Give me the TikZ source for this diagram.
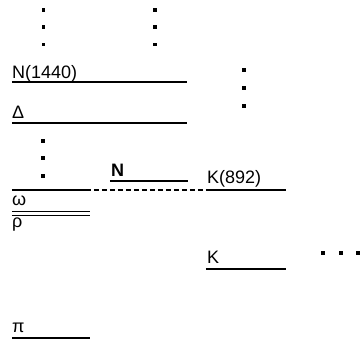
\documentclass[tikz,border=0pt]{standalone}
\usepackage{fontspec}
\setmainfont{Liberation Sans}
\begin{document}
\begin{tikzpicture}[x=1pt,y=-1pt,
  level/.style={line width=1.7pt},
  thinlevel/.style={line width=1.4pt},
  link/.style={line width=1.3pt,dash pattern=on 5pt off 3pt},
  lbl/.style={anchor=base west,inner sep=0pt,font=\fontsize{18}{20}\selectfont},
  dot/.style={fill=black,minimum size=3.6pt,inner sep=0pt,draw=none,rectangle}]
\useasboundingbox (0,0) rectangle (360,340);

% level labels
\node[lbl] (n1440) at (12,78) {N(1440)};
\node[lbl] (delta) at (12,119) {Δ};
\node[lbl,font=\fontsize{18}{20}\selectfont\bfseries] (nuc) at (111,176) {N};
\node[lbl] (k892) at (207,184) {K(892)};
\node[lbl] (omega) at (12,206) {ω};
\node[lbl] (rho) at (12,228) {ρ};
\node[lbl] (kaon) at (207,264) {K};
\node[lbl] (pion) at (12,333) {π};

% level end points
\coordinate (a1) at (12,82);   \coordinate (a2) at (187,82);
\coordinate (b1) at (12,123);  \coordinate (b2) at (187,123);
\coordinate (c1) at (12,190);  \coordinate (c2) at (91,190);
\coordinate (d1) at (94,190);  \coordinate (d2) at (206,190);
\coordinate (e1) at (206,190); \coordinate (e2) at (286,190);
\coordinate (f1) at (110,181); \coordinate (f2) at (188,181);
\coordinate (g1) at (12,211.5);\coordinate (g2) at (90,211.5);
\coordinate (h1) at (12,215.8);\coordinate (h2) at (90,215.8);
\coordinate (i1) at (206,269); \coordinate (i2) at (286,269);
\coordinate (j1) at (12,338);  \coordinate (j2) at (90,338);

% levels
\draw[level] (a1) -- (a2);
\draw[level] (b1) -- (b2);
\draw[level] (c1) -- (c2);
\draw[link]  (d1) -- (d2);
\draw[level] (e1) -- (e2);
\draw[level] (f1) -- (f2);
\draw[thinlevel] (g1) -- (g2);
\draw[thinlevel] (h1) -- (h2);
\draw[level] (i1) -- (i2);
\draw[level] (j1) -- (j2);

% ellipsis dots
\foreach \y [count=\k] in {10,27.3,44.4} {
  \node[dot] (l\k) at (43.5,\y) {};
  \node[dot] (r\k) at (155,\y) {};
}
\foreach \y [count=\k] in {70,88,106} \node[dot] (m\k) at (244,\y) {};
\foreach \y [count=\k] in {141,158,176} \node[dot] (s\k) at (43,\y) {};
\foreach \x [count=\k] in {323,341,358.2} \node[dot] (q\k) at (\x,253) {};
\end{tikzpicture}
\end{document}
